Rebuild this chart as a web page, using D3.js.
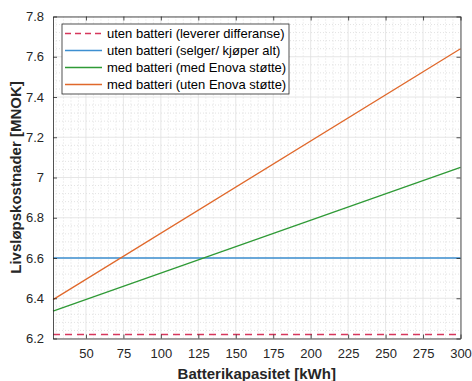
<!DOCTYPE html>
<html>
<head>
<meta charset="utf-8">
<script src="https://cdn.jsdelivr.net/npm/d3@7"></script>
<style>
  body { margin: 0; background: #fff; }
  svg text { font-family: 'Liberation Sans', Arial, sans-serif; }
</style>
</head>
<body>
<div id="chart"></div>
<script>
// Battery capacity (kWh) at start and end of the curves
const capacity = [28, 300]
const seriesNames = [
  'uten batteri (leverer differanse)',
  'uten batteri (selger/ kjøper alt)',
  'med batteri (med Enova støtte)',
  'med batteri (uten Enova støtte)'
]
const utenLeverer = [6.22, 6.22]
const utenSelger = [6.6, 6.6]
const medEnova = [6.336, 7.05]
const utenEnova = [6.393, 7.64]
const xTicks = [50, 75, 100, 125, 150, 175, 200, 225, 250, 275, 300]
const yTicks = [6.2, 6.4, 6.6, 6.8, 7, 7.2, 7.4, 7.6, 7.8]

const colors = ['#d6375c', '#3d8fd1', '#2f9a36', '#e0682b']
const values = [utenLeverer, utenSelger, medEnova, utenEnova]

const W = 472
const H = 381
const margin = { top: 16.5, right: 11.5, bottom: 42.5, left: 53 }
const width = W - margin.left - margin.right
const height = H - margin.top - margin.bottom

const svg = d3.select('#chart').append('svg')
  .attr('width', W)
  .attr('height', H)
const g = svg.append('g')
  .attr('transform', `translate(${margin.left},${margin.top})`)

const x = d3.scaleLinear().domain([capacity[0], 300]).range([0, width])
const y = d3.scaleLinear().domain([6.2, 7.8]).range([height, 0])

// Minor grid (dotted)
const xMinor = d3.range(30, 301, 5).filter(v => v % 25 !== 0)
const yMinor = d3.range(0, 41).map(i => 6.2 + i * 0.04).filter((v, i) => i % 5 !== 0)
g.append('g').selectAll('line')
  .data(xMinor).enter().append('line')
  .attr('x1', d => x(d)).attr('x2', d => x(d))
  .attr('y1', 0).attr('y2', height)
  .attr('stroke', '#cfcfcf').attr('stroke-width', 0.6)
  .attr('stroke-dasharray', '1,2')
g.append('g').selectAll('line')
  .data(yMinor).enter().append('line')
  .attr('y1', d => y(d)).attr('y2', d => y(d))
  .attr('x1', 0).attr('x2', width)
  .attr('stroke', '#cfcfcf').attr('stroke-width', 0.6)
  .attr('stroke-dasharray', '1,2')

// Major grid
g.append('g').selectAll('line')
  .data(xTicks).enter().append('line')
  .attr('x1', d => x(d)).attr('x2', d => x(d))
  .attr('y1', 0).attr('y2', height)
  .attr('stroke', '#e0e0e0').attr('stroke-width', 0.8)
g.append('g').selectAll('line')
  .data(yTicks).enter().append('line')
  .attr('y1', d => y(d)).attr('y2', d => y(d))
  .attr('x1', 0).attr('x2', width)
  .attr('stroke', '#e0e0e0').attr('stroke-width', 0.8)

// Lines
const line = d3.line()
  .x((d, i) => x(capacity[i]))
  .y(d => y(d))
values.forEach((vals, i) => {
  g.append('path')
    .datum(vals)
    .attr('d', line)
    .attr('fill', 'none')
    .attr('stroke', colors[i])
    .attr('stroke-width', i === 1 ? 1.6 : 1.3)
    .attr('stroke-dasharray', i === 0 ? '7,5' : null)
})

// Axes (MATLAB style: ticks inside, box)
const axisColor = '#262626'
const axBottom = g.append('g')
  .attr('transform', `translate(0,${height})`)
  .call(d3.axisBottom(x).tickValues(xTicks).tickSizeInner(-4).tickSizeOuter(0).tickPadding(10))
const axTop = g.append('g')
  .call(d3.axisTop(x).tickValues(xTicks).tickSizeInner(-4).tickSizeOuter(0).tickFormat(''))
const axLeft = g.append('g')
  .call(d3.axisLeft(y).tickValues(yTicks).tickSizeInner(-4).tickSizeOuter(0).tickPadding(9).tickFormat(d3.format('~g')))
const axRight = g.append('g')
  .attr('transform', `translate(${width},0)`)
  .call(d3.axisRight(y).tickValues(yTicks).tickSizeInner(-4).tickSizeOuter(0).tickFormat(''))
;[axBottom, axTop, axLeft, axRight].forEach(a => {
  a.selectAll('path').attr('stroke', axisColor).attr('stroke-width', 0.8)
  a.selectAll('line').attr('stroke', axisColor).attr('stroke-width', 0.8)
  a.selectAll('text').attr('fill', axisColor).style('font-size', '13px')
})

// Axis labels
svg.append('text')
  .attr('x', margin.left + width / 2)
  .attr('y', 379)
  .attr('text-anchor', 'middle')
  .style('font-size', '15px')
  .style('font-weight', 'bold')
  .attr('fill', axisColor)
  .text('Batterikapasitet [kWh]')
svg.append('text')
  .attr('transform', `translate(21,${margin.top + height / 2}) rotate(-90)`)
  .attr('text-anchor', 'middle')
  .style('font-size', '15px')
  .style('font-weight', 'bold')
  .attr('fill', axisColor)
  .text('Livsløpskostnader [MNOK]')

// Legend
const legend = svg.append('g').attr('transform', 'translate(62,24)')
legend.append('rect')
  .attr('width', 227).attr('height', 70)
  .attr('fill', '#fff')
  .attr('stroke', '#262626').attr('stroke-width', 0.8)
seriesNames.forEach((name, i) => {
  const ly = 9.5 + i * 17
  legend.append('line')
    .attr('x1', 3).attr('x2', 40)
    .attr('y1', ly).attr('y2', ly)
    .attr('stroke', colors[i])
    .attr('stroke-width', 1.4)
    .attr('stroke-dasharray', i === 0 ? '6,4' : null)
  legend.append('text')
    .attr('x', 45).attr('y', ly + 4.5)
    .style('font-size', '13px')
    .attr('fill', '#000')
    .text(name)
})
</script>
</body>
</html>
